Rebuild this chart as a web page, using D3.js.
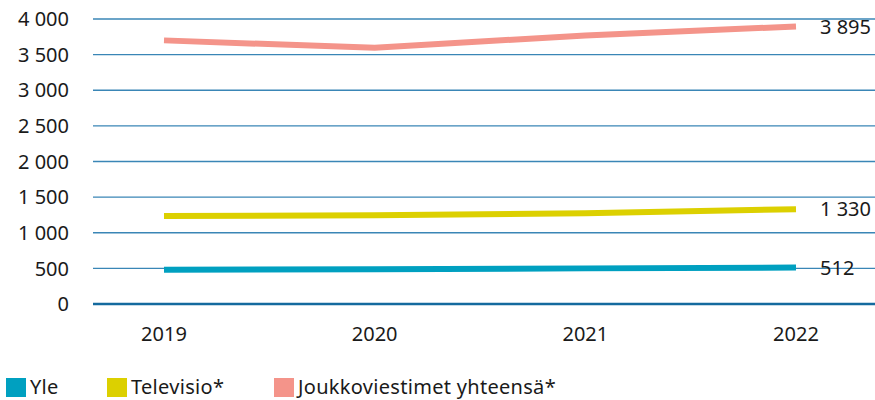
<!DOCTYPE html>
<html>
<head>
<meta charset="utf-8">
<script src="https://cdn.jsdelivr.net/npm/d3@7"></script>
<style>
  body { margin: 0; background: #fff; }
  text { font-family: "Noto Sans", sans-serif; fill: #1a1a1a; }
</style>
</head>
<body>
<svg id="chart" width="875" height="400"></svg>
<script>
// data
var years = ["2019", "2020", "2021", "2022"]
var yle = [480, 488, 500, 512]
var televisio = [1235, 1245, 1275, 1330]
var joukko = [3700, 3595, 3770, 3895]
var yTicks = [0, 500, 1000, 1500, 2000, 2500, 3000, 3500, 4000]

var series = [
  { name: "Yle", values: yle, color: "#00a0c0" },
  { name: "Televisio*", values: televisio, color: "#dcd000" },
  { name: "Joukkoviestimet yhteensä*", values: joukko, color: "#f4948a" }
]

var fi = d3.formatLocale({ decimal: ",", thousands: " ", grouping: [3], currency: ["", "€"] })
var fmt = fi.format(",")

var svg = d3.select("#chart")
var gridLeft = 93, gridRight = 875

var x = d3.scalePoint().domain(years).range([164, 796])
var y = d3.scaleLinear().domain([0, 4000]).range([304, 19])

// gridlines
svg.append("g")
  .selectAll("line")
  .data(yTicks.filter(function(d){ return d > 0 }))
  .enter()
  .append("line")
    .attr("x1", gridLeft)
    .attr("x2", gridRight)
    .attr("y1", function(d){ return y(d) })
    .attr("y2", function(d){ return y(d) })
    .attr("stroke", "#3a86b6")
    .attr("stroke-width", 1.3)

// y tick labels
svg.append("g")
  .selectAll("text")
  .data(yTicks)
  .enter()
  .append("text")
    .attr("x", 69)
    .attr("y", function(d){ return y(d) })
    .attr("dy", "0.36em")
    .attr("text-anchor", "end")
    .attr("font-size", 20)
    .text(function(d){ return fmt(d) })

// series lines
var line = d3.line()
  .x(function(d, i){ return x(years[i]) })
  .y(function(d){ return y(d) })

series.forEach(function(s){
  svg.append("path")
    .datum(s.values)
    .attr("d", line)
    .attr("fill", "none")
    .attr("stroke", s.color)
    .attr("stroke-width", 6)
})

// baseline
svg.append("line")
  .attr("x1", gridLeft)
  .attr("x2", gridRight)
  .attr("y1", y(0))
  .attr("y2", y(0))
  .attr("stroke", "#146a9e")
  .attr("stroke-width", 2.5)

// end labels
series.forEach(function(s){
  var last = s.values[s.values.length - 1]
  svg.append("text")
    .attr("x", x(years[years.length - 1]) + 24)
    .attr("y", y(last))
    .attr("dy", "0.36em")
    .attr("font-size", 20)
    .text(fmt(last))
})

// x labels
svg.append("g")
  .selectAll("text")
  .data(years)
  .enter()
  .append("text")
    .attr("x", function(d){ return x(d) })
    .attr("y", 341)
    .attr("text-anchor", "middle")
    .attr("font-size", 20)
    .text(function(d){ return d })

// legend
var legendX = [6, 107, 274]
var legend = svg.append("g")
  .selectAll("g")
  .data(series)
  .enter()
  .append("g")
    .attr("transform", function(d, i){ return "translate(" + legendX[i] + ",378)" })

legend.append("rect")
  .attr("width", 20)
  .attr("height", 19)
  .attr("fill", function(d){ return d.color })

legend.append("text")
  .attr("x", 24)
  .attr("y", 16)
  .attr("font-size", 20)
  .attr("letter-spacing", 0.3)
  .text(function(d){ return d.name })
</script>
</body>
</html>
